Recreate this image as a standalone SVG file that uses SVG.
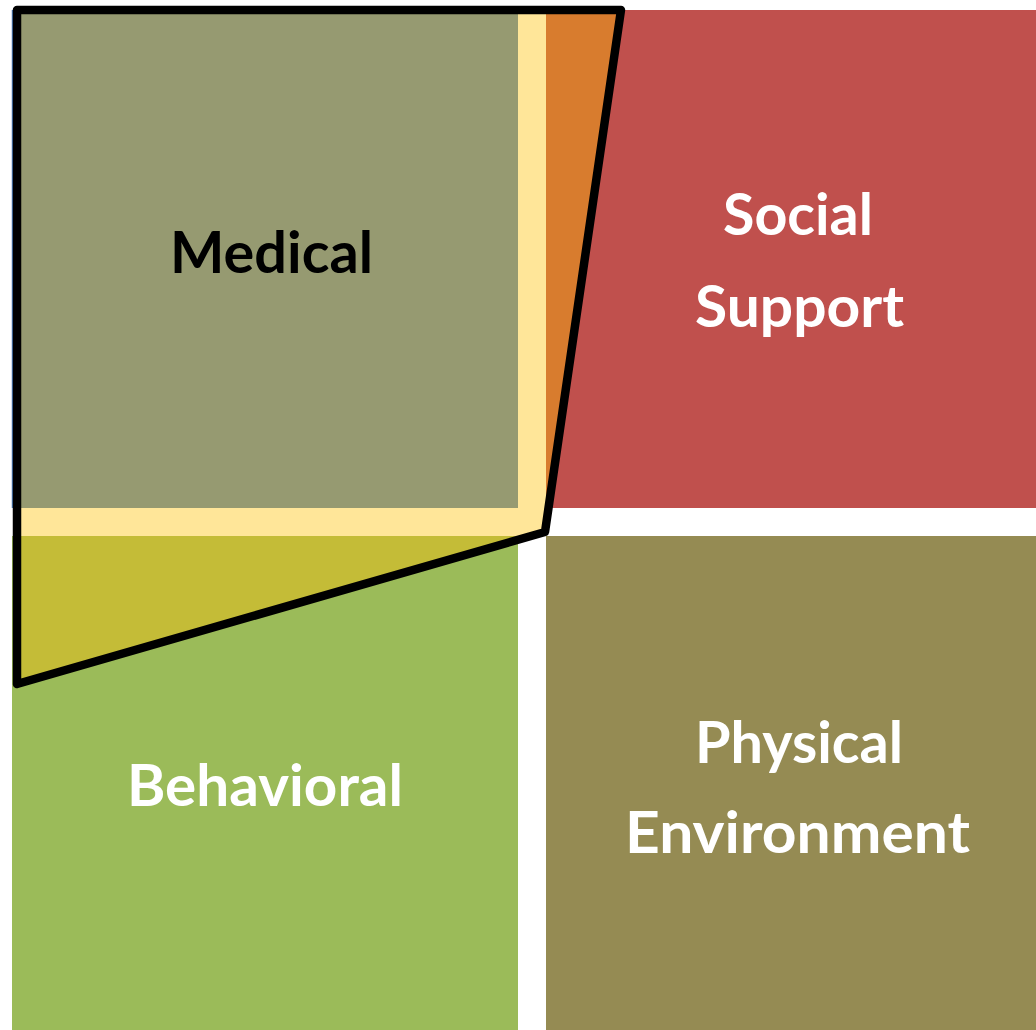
<svg xmlns="http://www.w3.org/2000/svg" width="1036" height="1030" viewBox="0 0 1036 1030">
  <defs>
    <clipPath id="hl">
      <polygon points="17,10 621,10 545,532 17,684"/>
    </clipPath>
    <style>
      .lbl { font-family: Lato, "Open Sans", "Liberation Sans", sans-serif; font-weight: bold; font-size: 58px; text-anchor: middle; }
      .w { fill: #FFFFFF; }
      .k { fill: #000000; }
    </style>
  </defs>
  <rect x="0" y="0" width="1036" height="1030" fill="#FFFFFF"/>

  <g id="social-support">
    <rect x="546" y="10" width="490" height="498" fill="#C0504D"/>
  </g>
  <g id="behavioral">
    <rect x="12" y="536" width="506" height="494" fill="#9BBB59"/>
  </g>
  <g id="physical-environment">
    <rect x="546" y="536" width="490" height="494" fill="#958B53"/>
  </g>

  <g id="highlight-fill">
    <polygon points="17,10 621,10 545,532 17,684" fill="#FFE699"/>
    <rect x="546" y="10" width="490" height="498" fill="#D87C2E" clip-path="url(#hl)"/>
    <rect x="12" y="536" width="506" height="494" fill="#C4BC37" clip-path="url(#hl)"/>
  </g>

  <g id="medical">
    <rect x="12" y="10" width="506" height="498" fill="#969A71"/>
    <line x1="12.5" y1="10" x2="12.5" y2="508" stroke="#4F81BD" stroke-width="1.5"/>
  </g>

  <g id="connectors">
    <polygon points="17,10 621,10 545,532 17,684" fill="none" stroke="#000000" stroke-width="8.5" stroke-linejoin="round"/>
  </g>

  <g id="labels">
    <text class="lbl k" x="271.5" y="272.7" textLength="203" lengthAdjust="spacingAndGlyphs">Medical</text>
    <text class="lbl w" x="798" y="235" textLength="150" lengthAdjust="spacingAndGlyphs">Social</text>
    <text class="lbl w" x="799.5" y="326.5" textLength="209" lengthAdjust="spacingAndGlyphs">Support</text>
    <text class="lbl w" x="265" y="806" textLength="276" lengthAdjust="spacingAndGlyphs">Behavioral</text>
    <text class="lbl w" x="799" y="762.7" textLength="208" lengthAdjust="spacingAndGlyphs">Physical</text>
    <text class="lbl w" x="797.5" y="853" textLength="345" lengthAdjust="spacingAndGlyphs">Environment</text>
  </g>
</svg>
